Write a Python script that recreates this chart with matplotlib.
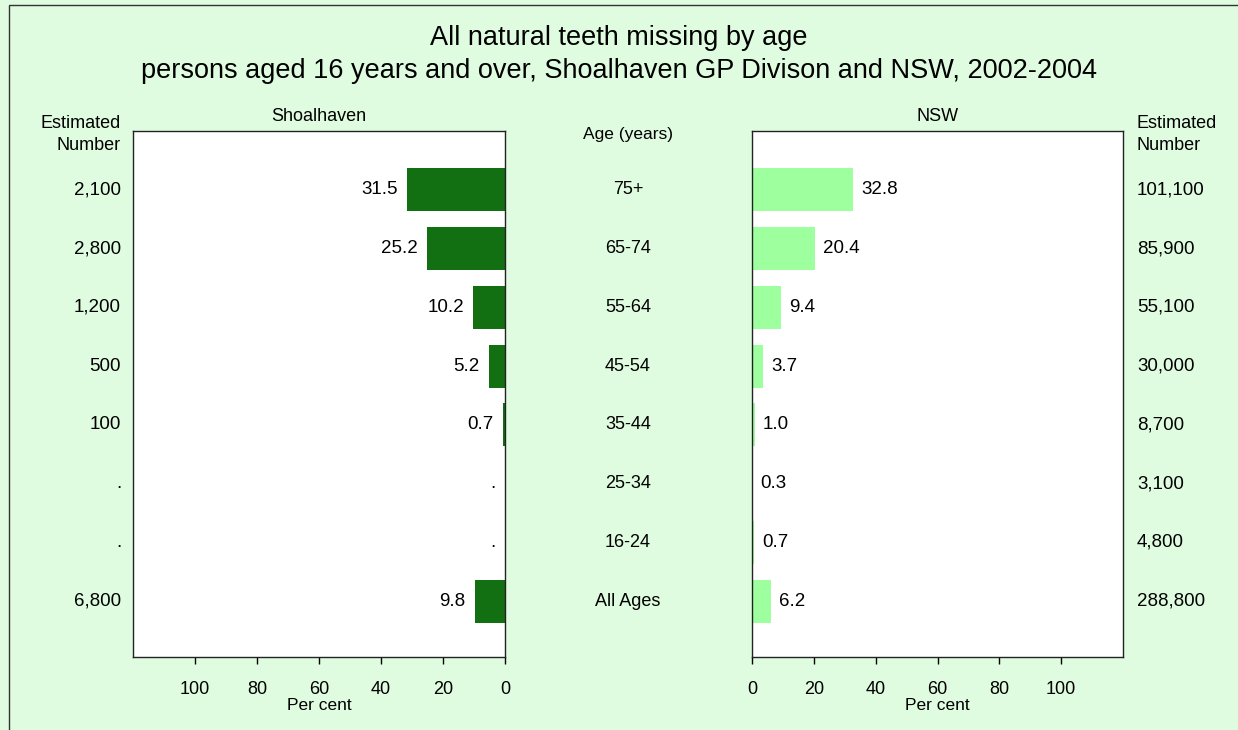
import numpy as np
import matplotlib
matplotlib.use("Agg")
from matplotlib import pyplot as plt
from matplotlib import transforms
from matplotlib.patches import Rectangle

plt.rcParams['font.family'] = ['Liberation Sans', 'DejaVu Sans']

# data
ages = ['75+', '65-74', '55-64', '45-54', '35-44', '25-34', '16-24', 'All Ages']
shoal_pct = [31.5, 25.2, 10.2, 5.2, 0.7, 0.0, 0.0, 9.8]
shoal_lbl = ['31.5', '25.2', '10.2', '5.2', '0.7', '.', '.', '9.8']
shoal_num = ['2,100', '2,800', '1,200', '500', '100', '.', '.', '6,800']
nsw_pct = [32.8, 20.4, 9.4, 3.7, 1.0, 0.3, 0.7, 6.2]
nsw_lbl = ['32.8', '20.4', '9.4', '3.7', '1.0', '0.3', '0.7', '6.2']
nsw_num = ['101,100', '85,900', '55,100', '30,000', '8,700', '3,100', '4,800', '288,800']
ticks = [0, 20, 40, 60, 80, 100]

bg = '#e0fce0'
dark = '#127012'
light = '#9dff9d'
W, H = 1238, 730

fig = plt.figure(figsize=(W / 100, H / 100), dpi=100, facecolor=bg)

# outer frame (only top and left visible)
fig.add_artist(Rectangle((9 / W, -0.05), 1.1, 1 - 5 / H + 0.05, transform=fig.transFigure,
                         fill=False, edgecolor='#333333', linewidth=1.0))

fig.text(0.5, 1 - 38 / H, 'All natural teeth missing by age', ha='center', va='center', fontsize=19.5)
fig.text(0.5, 1 - 71 / H, 'persons aged 16 years and over, Shoalhaven GP Divison and NSW, 2002-2004',
         ha='center', va='center', fontsize=19.5)

y = np.arange(len(ages))
ax_l = fig.add_axes([133 / W, 1 - 657 / H, 372 / W, 526 / H])
ax_r = fig.add_axes([752 / W, 1 - 657 / H, 371 / W, 526 / H])

ax_l.barh(y, shoal_pct, height=0.73, color=dark)
ax_r.barh(y, nsw_pct, height=0.73, color=light)

for ax in (ax_l, ax_r):
    ax.set_ylim(7.95, -1.0)
    ax.set_yticks([])
    ax.set_xticks(ticks)
    ax.tick_params(axis='x', direction='out', length=5, width=1, labelsize=13, pad=12)
    ax.set_xlabel('Per cent', fontsize=12.5, labelpad=0.5)
    for s in ax.spines.values():
        s.set_linewidth(1.0)
        s.set_color('#222222')
ax_l.set_xlim(120, 0)
ax_r.set_xlim(0, 120)
ax_l.set_title('Shoalhaven', fontsize=13, pad=7)
ax_r.set_title('NSW', fontsize=13, pad=7)

for i in range(len(ages)):
    ax_l.annotate(shoal_lbl[i], (shoal_pct[i], y[i]), xytext=(-6.5, 0), textcoords='offset points',
                  ha='right', va='center', fontsize=13.5)
    ax_r.annotate(nsw_lbl[i], (nsw_pct[i], y[i]), xytext=(5.5, 0), textcoords='offset points',
                  ha='left', va='center', fontsize=13.5)

tl = transforms.blended_transform_factory(fig.transFigure, ax_l.transData)
for i in range(len(ages)):
    fig.text(121 / W, y[i], shoal_num[i], transform=tl, ha='right', va='center', fontsize=13.5)
    fig.text(628 / W, y[i], ages[i], transform=tl, ha='center', va='center', fontsize=13)
    fig.text(1137 / W, y[i], nsw_num[i], transform=tl, ha='left', va='center', fontsize=13.5)

fig.text(121 / W, 1 - 134.5 / H, 'Estimated\nNumber', ha='right', va='center', fontsize=13, linespacing=1.35)
fig.text(1137 / W, 1 - 134.5 / H, 'Estimated\nNumber', ha='left', va='center', fontsize=13, linespacing=1.35)
fig.text(628 / W, 1 - 134 / H, 'Age (years)', ha='center', va='center', fontsize=12.5)

fig.savefig('out.png', dpi=100, facecolor=bg)
